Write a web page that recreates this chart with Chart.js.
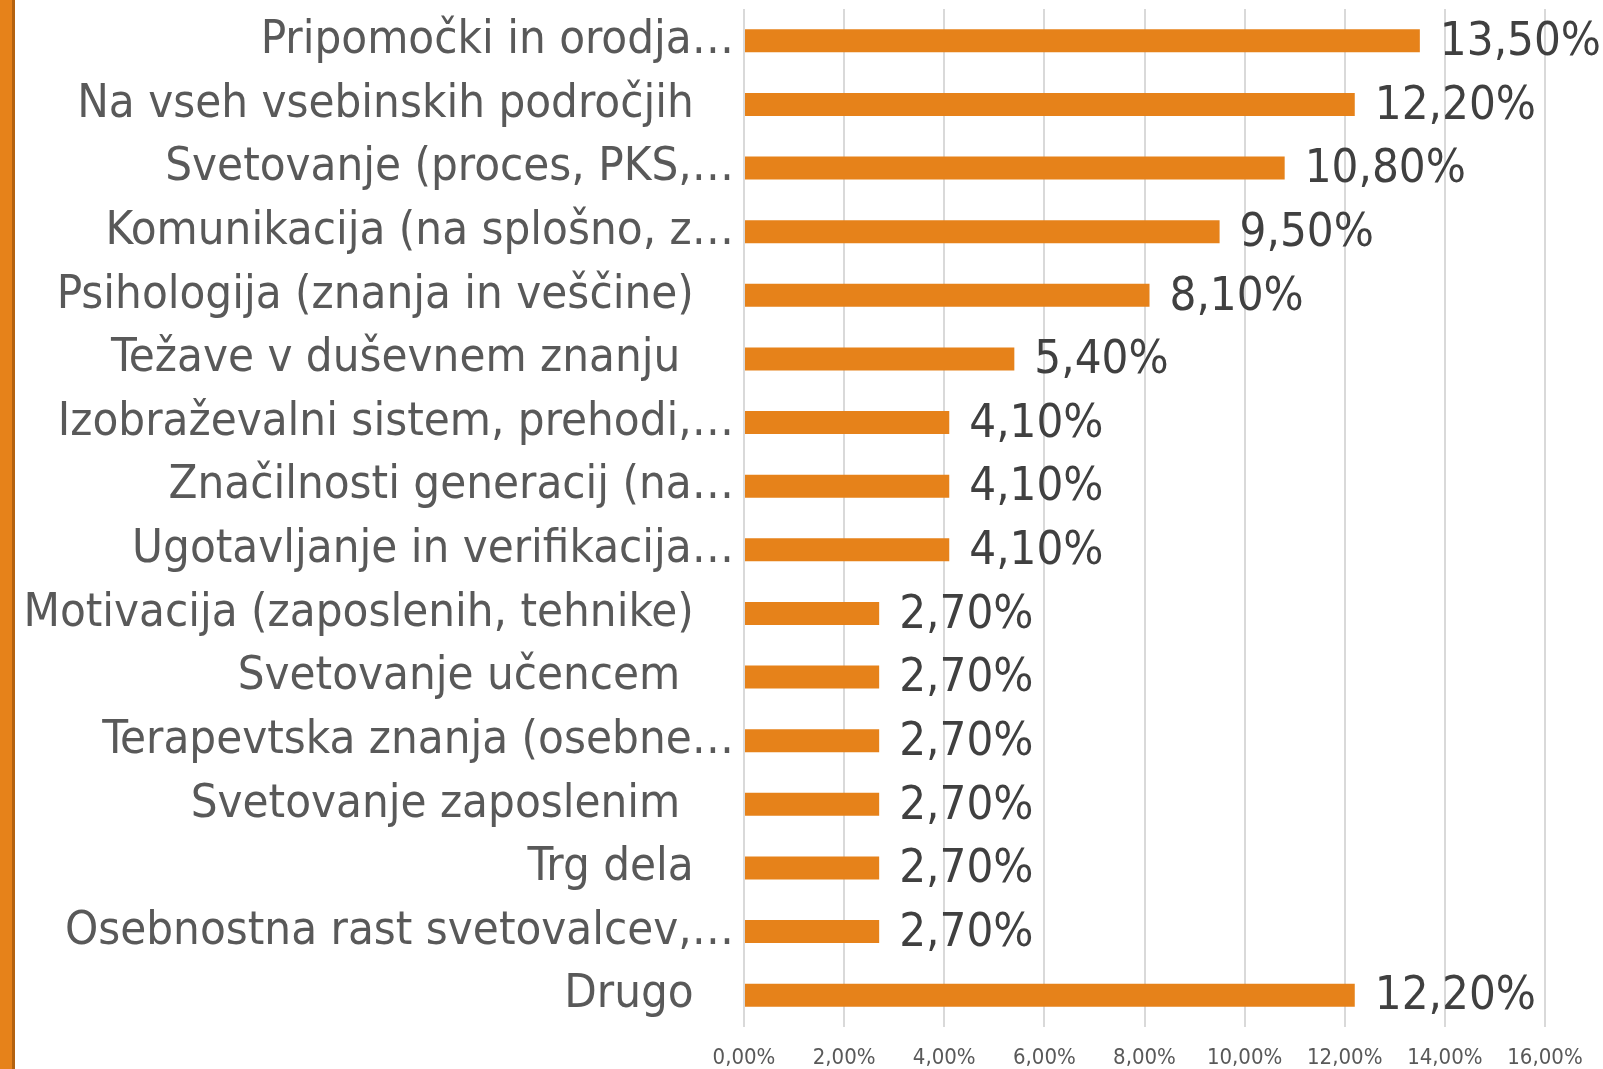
<!DOCTYPE html>
<html>
<head>
<meta charset="utf-8">
<script src="https://cdn.jsdelivr.net/npm/chart.js@4.4.1/dist/chart.umd.min.js"></script>
<style>
  html, body { margin: 0; padding: 0; background: #fff; }
  #wrap { position: relative; width: 1603px; height: 1069px; }
  #stripe { position: absolute; left: 0; top: 0; width: 12px; height: 1069px; background: #E6821A; border-right: 3px solid #B4620F; }
</style>
</head>
<body>
<div id="wrap">
  <canvas id="bar-graph" width="1603" height="1069"></canvas>
  <div id="stripe"></div>
</div>
<script>
// categories (text as shown on the axis, excel cut the long ones)
const categories = [
    'Pripomočki in orodja…',
    'Na vseh vsebinskih področjih   ',
    'Svetovanje (proces, PKS,…',
    'Komunikacija (na splošno, z…',
    'Psihologija (znanja in veščine)   ',
    'Težave v duševnem znanju    ',
    'Izobraževalni sistem, prehodi,…',
    'Značilnosti generacij (na…',
    'Ugotavljanje in verifikacija…',
    'Motivacija (zaposlenih, tehnike)   ',
    'Svetovanje učencem    ',
    'Terapevtska znanja (osebne…',
    'Svetovanje zaposlenim    ',
    'Trg dela   ',
    'Osebnostna rast svetovalcev,…',
    'Drugo   '
]

// share of answers in %
const shares = [13.5, 12.2, 10.8, 9.5, 8.1, 5.4, 4.1, 4.1, 4.1, 2.7, 2.7, 2.7, 2.7, 2.7, 2.7, 12.2]

const xTicks = [0, 2, 4, 6, 8, 10, 12, 14, 16]

const fmt = (v) => v.toFixed(2).replace('.', ',') + '%'

const FONT = '"DejaVu Sans Condensed", "DejaVu Sans", sans-serif'

// no datalabels plugin here, so draw the values by hand
const valueLabels = {
    id: 'valueLabels',
    afterDatasetsDraw(chart) {
        const ctx = chart.ctx
        const meta = chart.getDatasetMeta(0)
        ctx.save()
        ctx.font = '47px ' + FONT
        ctx.fillStyle = '#404040'
        ctx.textAlign = 'left'
        ctx.textBaseline = 'middle'
        meta.data.forEach((bar, i) => {
            ctx.fillText(fmt(shares[i]), bar.x + 20, bar.y + 2)
        })
        ctx.restore()
    }
}

window.onload = () => {
    const ctx = document.querySelector('#bar-graph').getContext('2d')
    new Chart(ctx, {
        type: 'bar',
        data: {
            labels: categories,
            datasets: [{
                data: shares,
                backgroundColor: '#E6821A',
                borderWidth: 0,
                barPercentage: 0.36,
                categoryPercentage: 1
            }]
        },
        options: {
            indexAxis: 'y',
            responsive: false,
            animation: false,
            layout: { padding: { top: 9, right: 58, left: 0, bottom: 0 } },
            plugins: { legend: { display: false }, tooltip: { enabled: false } },
            scales: {
                x: {
                    min: 0,
                    max: 16,
                    afterBuildTicks: (scale) => { scale.ticks = xTicks.map(v => ({ value: v })) },
                    grid: { color: '#D9D9D9', lineWidth: 2, drawTicks: false },
                    border: { display: false },
                    ticks: {
                        callback: (v) => fmt(v),
                        font: { family: FONT, size: 22 },
                        color: '#595959',
                        padding: 18,
                        maxRotation: 0
                    },
                    afterFit: (scale) => { scale.height = 42 }
                },
                y: {
                    grid: { display: false, drawTicks: false },
                    border: { display: false },
                    ticks: {
                        font: { family: FONT, size: 47 },
                        color: '#595959',
                        padding: 10,
                        autoSkip: false
                    },
                    afterFit: (scale) => {
                        scale.width = 744
                        // labels may stick out above/below, the plot goes right to the top
                        scale.paddingTop = 0
                        scale.paddingBottom = 0
                    }
                }
            }
        },
        plugins: [valueLabels]
    })
}
</script>
</body>
</html>
